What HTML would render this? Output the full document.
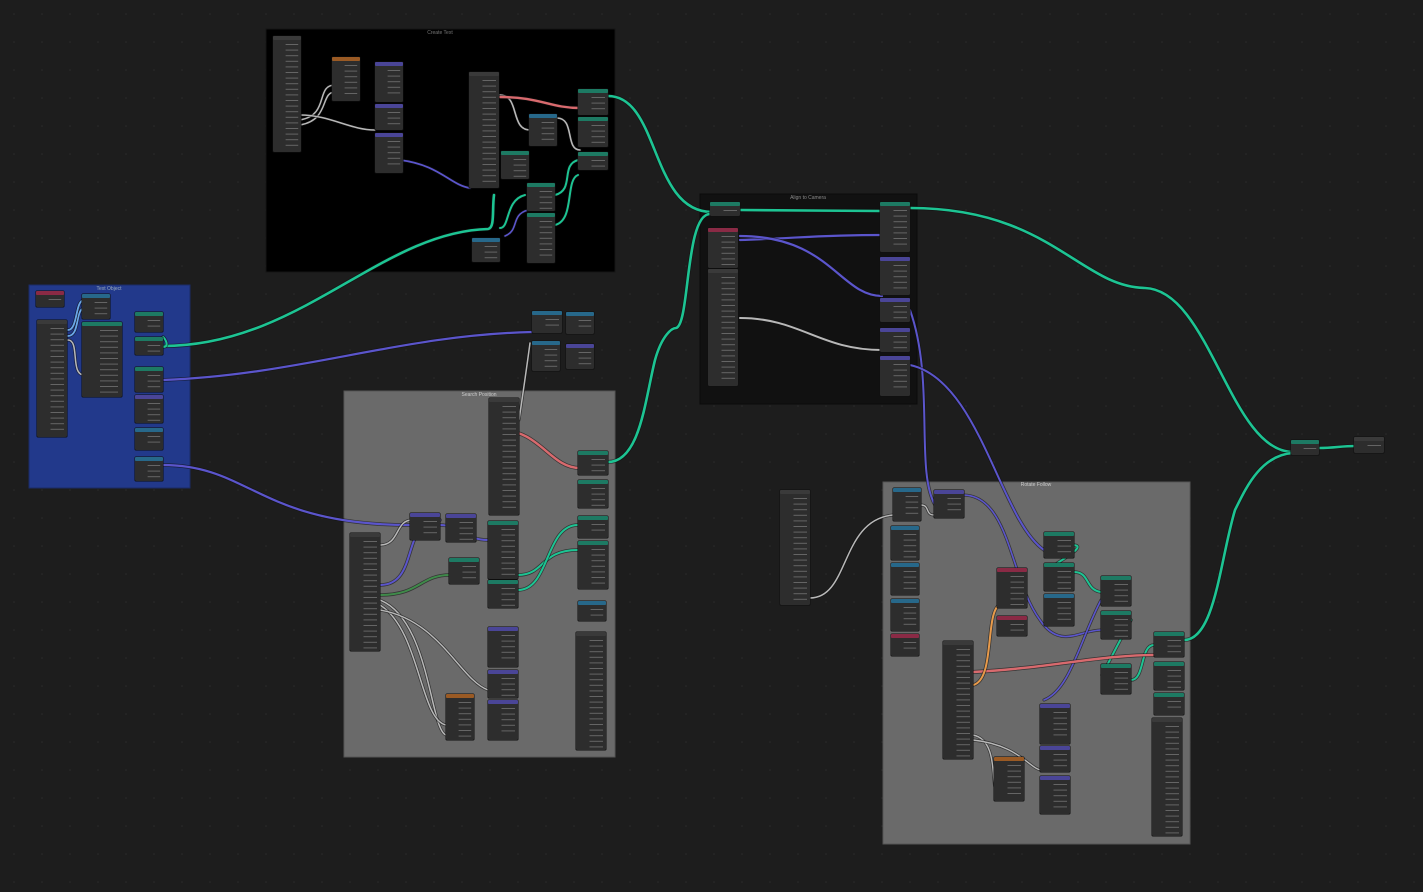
<!DOCTYPE html>
<html><head><meta charset="utf-8"><style>
html,body{margin:0;padding:0;background:#1d1d1d;width:1423px;height:892px;overflow:hidden}
svg{display:block}
text{font-family:"Liberation Sans",sans-serif}
</style></head><body>
<svg id="s" width="1423" height="892" viewBox="0 0 1423 892" xmlns="http://www.w3.org/2000/svg">
<defs><pattern id="g" width="28" height="28" patternUnits="userSpaceOnUse"><circle cx="14" cy="14" r="0.8" fill="#2a2a2a"/></pattern></defs>
<rect width="1423" height="892" fill="#1d1d1d"/>
<rect width="1423" height="892" fill="url(#g)"/>
<!-- frames -->
<rect x="266" y="29" width="349" height="243" fill="#000" stroke="#151515"/>
<text x="440" y="34" font-size="5" fill="#777" text-anchor="middle">Create Text</text>
<rect x="29" y="285" width="161" height="203" fill="#22398b" stroke="#1a2a66"/>
<text x="109" y="290" font-size="5" fill="#9ab" text-anchor="middle">Text Object</text>
<rect x="344" y="391" width="271" height="366" fill="#6a6a6a" stroke="#555"/>
<text x="479" y="396" font-size="5" fill="#ccc" text-anchor="middle">Search Position</text>
<rect x="700" y="194" width="217" height="210" fill="#111" stroke="#0a0a0a"/>
<text x="808" y="199" font-size="5" fill="#888" text-anchor="middle">Align to Camera</text>
<rect x="883" y="482" width="307" height="362" fill="#6a6a6a" stroke="#555"/>
<text x="1036" y="486" font-size="5" fill="#ccc" text-anchor="middle">Rotate Follow</text>
<g id="links" fill="none" stroke-linecap="round"></g>
<g id="nodes"></g>
</svg>
<script>
var L=document.getElementById('links'),N=document.getElementById('nodes'),ns='http://www.w3.org/2000/svg';
function p(d,c,w){var e=document.createElementNS(ns,'path');e.setAttribute('d',d);e.setAttribute('stroke','#111');e.setAttribute('stroke-width',w+1.5);e.setAttribute('fill','none');e.setAttribute('opacity','0.6');L.appendChild(e);e=document.createElementNS(ns,'path');e.setAttribute('d',d);e.setAttribute('stroke',c);e.setAttribute('stroke-width',w);e.setAttribute('fill','none');L.appendChild(e);}
var T='#1dc493',P='#5b55cc',W='#b8b8b8',R='#d86a6e',G='#3f8a4a',O='#e89a4a',B='#6aa7e8';
// teal main
p('M163,346 C300,346 380,232 488,229 C495,228 492,210 494,195',T,2.6);
p('M163,347 C170,347 165,338 163,337',T,2);
p('M608,96 C660,96 650,212 712,212',T,2.6);
p('M740,210 C800,210 830,211 882,211',T,2.6);
p('M910,208 C1050,208 1080,287 1145,288 C1210,290 1230,452 1293,452',T,2.6);
p('M608,462 C640,462 645,400 655,360 C662,335 672,328 676,328 C690,325 685,214 710,214',T,2.6);
p('M1184,640 C1215,640 1220,560 1235,510 C1245,490 1260,455 1293,453',T,2.6);
p('M1319,448 C1335,448 1340,446 1356,446',T,2.6);
p('M500,228 C510,228 505,200 525,195',T,2);
p('M555,195 C575,190 560,165 578,160',T,2);
p('M555,225 C575,220 565,180 578,175',T,2);
p('M518,575 C545,575 540,550 578,550',T,2);
p('M518,590 C550,590 545,525 578,525',T,2);
p('M1131,620 C1120,640 1110,660 1102,675',T,2);
p('M1131,680 C1145,680 1140,645 1154,645',T,2);
p('M1074,572 C1090,572 1085,590 1101,592',T,2);
p('M1072,545 C1090,545 1060,560 1048,570',T,2);
// purple
p('M163,380 C300,375 400,335 532,332',P,2.2);
p('M163,465 C250,465 260,525 410,525',P,2.2);
p('M740,240 C800,238 820,235 882,235',P,2.2);
p('M740,236 C830,236 840,296 882,296',P,2.2);
p('M910,310 C935,380 915,470 935,505',P,2);
p('M910,365 C980,380 1000,520 1044,550',P,2);
p('M963,495 C1010,495 1010,580 1040,620 C1060,650 1080,630 1101,630',P,1.6);
p('M1044,700 C1070,690 1080,640 1101,600',P,1.6);
p('M400,160 C440,165 450,185 470,188',P,1.8);
p('M380,80 C390,85 385,100 395,100',P,1.5);
p('M440,525 C460,525 465,540 488,540',P,2);
p('M380,585 C420,585 400,520 440,520',P,2);
p('M505,236 C520,230 510,215 528,210',P,1.6);
// gray/white
p('M740,318 C800,318 820,350 882,350',W,2);
p('M530,343 C525,380 522,400 519,420',W,1.5);
p('M300,120 C330,115 315,85 335,85',W,1.5);
p('M300,125 C330,120 320,92 335,92',W,1.5);
p('M300,115 C330,115 350,130 375,130',W,1.5);
p('M500,95 C520,95 510,130 530,130',W,1.6);
p('M557,118 C575,118 565,150 580,150',W,1.6);
p('M68,340 C80,340 70,375 84,375',W,1.5);
p('M810,598 C850,598 840,520 893,515',W,1.5);
p('M380,545 C400,545 395,520 412,520',W,1.5);
p('M380,600 C430,620 430,730 446,735',W,1.5);
p('M380,605 C420,630 420,720 446,725',W,1.5);
p('M380,610 C440,620 460,680 488,690',W,1.4);
p('M973,735 C1000,740 990,790 997,790',W,1.4);
p('M973,740 C1020,745 1030,770 1042,770',W,1.4);
p('M921,505 C930,505 925,515 934,515',W,1.4);
// others
p('M500,430 C540,430 550,468 580,468',R,2.4);
p('M500,97 C540,97 550,108 580,108',R,2.4);
p('M973,672 C1050,668 1100,655 1154,655',R,2.4);
p('M380,595 C420,595 420,575 450,575',G,2);
p('M973,685 C995,680 985,615 999,605',O,2);
p('M68,336 C80,336 75,310 84,308',B,1.8);
p('M68,330 C78,330 75,300 84,300',B,1.8);

function node(x,y,w,h,c,rows){
 var g=document.createElementNS(ns,'g');
 var s='<rect x="'+(x-0.5)+'" y="'+(y-0.5)+'" width="'+(w+1)+'" height="'+(h+1)+'" fill="#0e0e0e" rx="1.5"/>'+
 '<rect x="'+x+'" y="'+y+'" width="'+w+'" height="'+h+'" fill="#2d2d2d" rx="1.5"/>'+
 '<rect x="'+x+'" y="'+y+'" width="'+w+'" height="4" fill="'+c+'" rx="1"/>';
 var n=rows||Math.floor((h-8)/5);
 for(var i=0;i<n;i++){var yy=y+8+i*5.6;if(yy>y+h-3)break;
  s+='<rect x="'+(x+w*0.45)+'" y="'+yy+'" width="'+(w*0.45)+'" height="1" fill="#8a8a8a" opacity="0.6"/>';}
 g.innerHTML=s;N.appendChild(g);
}
var D='#3a3a3a',TE='#1d7a63',PU='#4a4597',BL='#27688a',RE='#8a2a45',OR='#9a5a24';
var list=[
[273,36,28,116,D,20],[332,57,28,44,OR,6],[375,62,28,40,PU,5],[375,104,28,26,PU,3],[375,133,28,40,PU,5],
[469,72,30,116,D,20],[578,89,30,26,TE,3],[578,117,30,30,TE,4],[578,152,30,18,TE,2],[529,114,28,32,BL,4],
[501,151,28,28,TE,4],[527,183,28,28,TE,4],[527,213,28,50,TE,7],[472,238,28,24,BL,3],
[36,291,28,16,RE,2],[82,294,28,25,BL,3],[37,320,30,117,D,20],[82,322,40,75,TE,12],
[135,312,28,20,TE,3],[135,337,28,18,TE,2],[135,367,28,25,TE,3],[135,395,28,28,PU,4],[135,428,28,22,BL,3],[135,457,28,24,BL,3],
[532,311,30,22,BL,3],[566,312,28,22,BL,3],[532,341,28,30,BL,4],[566,344,28,25,PU,3],
[489,398,30,117,D,20],[578,451,30,24,TE,3],[578,480,30,28,TE,4],[578,516,30,22,TE,3],[578,541,30,48,TE,7],[578,601,28,20,BL,2],[576,632,30,118,D,20],
[350,533,30,118,D,20],[410,513,30,27,PU,3],[446,514,30,28,PU,4],[488,521,30,58,TE,9],[449,558,30,26,TE,3],[488,580,30,28,TE,4],
[488,627,30,40,PU,5],[488,670,30,28,PU,4],[446,694,28,46,OR,7],[488,700,30,40,PU,5],
[710,202,30,14,TE,1],[708,228,30,40,RE,6],[708,269,30,117,D,20],
[880,202,30,50,TE,7],[880,257,30,38,PU,5],[880,298,30,24,PU,3],[880,328,30,24,PU,3],[880,356,30,40,PU,5],
[1291,440,28,15,TE,2],[1354,437,30,16,D,2],[780,490,30,115,D,20],
[893,488,28,33,BL,4],[934,490,30,28,PU,3],[891,526,28,34,BL,5],[891,563,28,32,BL,5],[891,599,28,32,BL,5],[891,634,28,22,RE,3],
[943,641,30,118,D,20],[997,568,30,40,RE,6],[997,616,30,20,RE,3],
[1044,532,30,26,TE,3],[1044,563,30,28,TE,4],[1044,594,30,32,BL,4],
[1101,576,30,30,TE,4],[1101,611,30,28,TE,4],[1101,664,30,30,TE,4],
[1154,632,30,25,TE,3],[1154,662,30,28,TE,4],[1154,693,30,22,TE,3],[1152,718,30,118,D,20],
[1040,704,30,40,PU,5],[1040,746,30,26,PU,3],[1040,776,30,38,PU,5],[994,757,30,44,OR,7]
];
list.forEach(function(a){node.apply(null,a);});
</script>
</body></html>
